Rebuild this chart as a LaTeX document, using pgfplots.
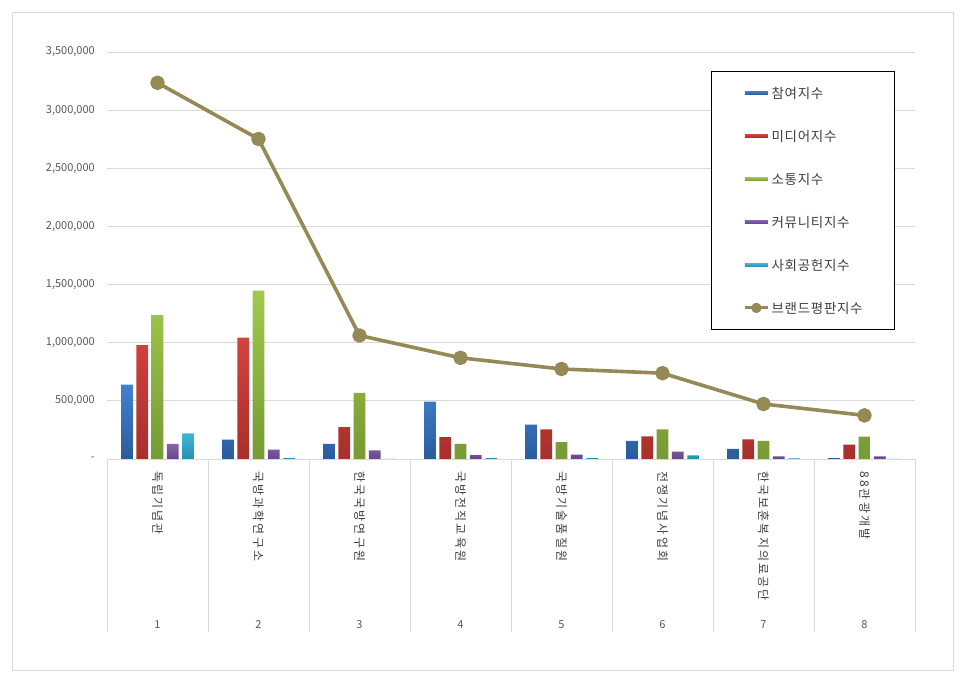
\documentclass[border=0pt]{standalone}
\usepackage{pgfplots}
\pgfplotsset{compat=1.18}
\usepackage{fontspec}
\setmainfont{Noto Sans CJK KR}
\newfontfamily\catfont[LetterSpace=18]{Noto Sans CJK KR}
\newfontfamily\legfont[LetterSpace=5]{Noto Sans CJK KR}
\definecolor{gridc}{HTML}{D9D9D9}
\definecolor{tickc}{HTML}{595959}
\definecolor{labc}{HTML}{404040}
\definecolor{blueT}{HTML}{4281CF}
\definecolor{blueB}{HTML}{2A5C9C}
\definecolor{redT}{HTML}{D2423E}
\definecolor{redB}{HTML}{A82F2C}
\definecolor{greenT}{HTML}{A0CA4C}
\definecolor{greenB}{HTML}{769A35}
\definecolor{purT}{HTML}{8763AF}
\definecolor{purB}{HTML}{68468C}
\definecolor{cyaT}{HTML}{40B7D8}
\definecolor{cyaB}{HTML}{2890AF}
\definecolor{linec}{HTML}{958A55}
\begin{document}
\begin{tikzpicture}
\useasboundingbox (0,0) rectangle (966pt,682pt);
\fill[white] (0,0) rectangle (966pt,682pt);
\draw[gridc, line width=0.8pt] (12pt,12pt) rectangle (953pt,670pt);
\begin{axis}[
  at={(107pt,223pt)}, anchor=south west,
  scale only axis, width=808pt, height=407pt,
  xmin=0.5, xmax=8.5, ymin=0, ymax=3500000,
  clip=false,
  axis line style={draw=none},
  major tick length=0pt,
  tick pos=left,
  scaled y ticks=false,
  ymajorgrids, grid style={gridc, line width=0.8pt},
  ytick={0,500000,1000000,1500000,2000000,2500000,3000000,3500000},
  yticklabels={{-\hspace{4pt}},{500,000},{1,000,000},{1,500,000},{2,000,000},{2,500,000},{3,000,000},{3,500,000}},
  yticklabel style={font=\fontsize{11}{13}\selectfont, text=tickc, inner sep=0pt, xshift=-12pt},
  xtick={1,2,3,4,5,6,7,8},
  xticklabels={독립기념관,국방과학연구소,한국국방연구원,국방전직교육원,국방기술품질원,전쟁기념사업회,한국보훈복지의료공단,88관광개발},
  xticklabel style={yshift=-12pt, rotate=-90, anchor=west, inner sep=0pt, font=\catfont\fontsize{12}{14}\selectfont, text=labc},
  extra x ticks={0.5,1.5,2.5,3.5,4.5,5.5,6.5,7.5,8.5},
  extra x tick labels={},
  extra x tick style={major tick length=173pt, tick align=outside, tick style={draw=gridc, line width=0.8pt}, grid=none},
  legend style={at={(0.7475,0.9533)}, anchor=north west, draw=black, line width=0.8pt,
    inner xsep=32pt, inner ysep=15pt, row sep=30pt,
    font=\legfont\fontsize{13.5}{15}\selectfont, text=labc,
    nodes={inner sep=0pt, text height=12pt, text depth=1pt}},
  legend cell align=left,
]
\addplot[ybar, bar width=11.7pt, bar shift=-30.6pt, draw=none, top color=blueT, bottom color=blueB,
  legend image code/.code={\fill[blueT!70!blueB] (0pt,-1.8pt) rectangle (23pt,1.8pt);}]
  coordinates {(1,639000) (2,166000) (3,129000) (4,493000) (5,295000) (6,155000) (7,86000) (8,8000)};
\addlegendentry{\,참여지수}
\addplot[ybar, bar width=11.7pt, bar shift=-15.3pt, draw=none, top color=redT, bottom color=redB,
  legend image code/.code={\fill[redT!70!redB] (0pt,-1.8pt) rectangle (23pt,1.8pt);}]
  coordinates {(1,980000) (2,1043000) (3,275000) (4,189000) (5,255000) (6,195000) (7,169000) (8,123000)};
\addlegendentry{\,미디어지수}
\addplot[ybar, bar width=11.7pt, bar shift=0pt, draw=none, top color=greenT, bottom color=greenB,
  legend image code/.code={\fill[greenT!70!greenB] (0pt,-1.8pt) rectangle (23pt,1.8pt);}]
  coordinates {(1,1238000) (2,1447000) (3,568000) (4,129000) (5,146000) (6,255000) (7,155000) (8,192000)};
\addlegendentry{\,소통지수}
\addplot[ybar, bar width=11.7pt, bar shift=15.3pt, draw=none, top color=purT, bottom color=purB,
  legend image code/.code={\fill[purT!70!purB] (0pt,-1.8pt) rectangle (23pt,1.8pt);}]
  coordinates {(1,129000) (2,80000) (3,75000) (4,34000) (5,37000) (6,63000) (7,23000) (8,23000)};
\addlegendentry{\,커뮤니티지수}
\addplot[ybar, bar width=11.7pt, bar shift=30.6pt, draw=none, top color=cyaT, bottom color=cyaB,
  legend image code/.code={\fill[cyaT!70!cyaB] (0pt,-1.8pt) rectangle (23pt,1.8pt);}]
  coordinates {(1,221000) (2,8000) (3,0) (4,8000) (5,8000) (6,32000) (7,6000) (8,0)};
\addlegendentry{\,사회공헌지수}
\addplot[sharp plot, color=linec, line width=3.6pt, line join=round, mark=*, mark size=5.5pt, mark options={solid, fill=linec, draw=none},
  legend image code/.code={\draw[linec, line width=3pt] (0pt,0pt) -- (23pt,0pt); \fill[linec] (11.5pt,0pt) circle (3.3pt);}]
  coordinates {(1,3235000) (2,2752000) (3,1062000) (4,870000) (5,774000) (6,738000) (7,473000) (8,375000)};
\addlegendentry{\,브랜드평판지수}
\node[font=\fontsize{11}{13}\selectfont, text=tickc] at (axis cs:1,0) [yshift=-166pt] {1};
\node[font=\fontsize{11}{13}\selectfont, text=tickc] at (axis cs:2,0) [yshift=-166pt] {2};
\node[font=\fontsize{11}{13}\selectfont, text=tickc] at (axis cs:3,0) [yshift=-166pt] {3};
\node[font=\fontsize{11}{13}\selectfont, text=tickc] at (axis cs:4,0) [yshift=-166pt] {4};
\node[font=\fontsize{11}{13}\selectfont, text=tickc] at (axis cs:5,0) [yshift=-166pt] {5};
\node[font=\fontsize{11}{13}\selectfont, text=tickc] at (axis cs:6,0) [yshift=-166pt] {6};
\node[font=\fontsize{11}{13}\selectfont, text=tickc] at (axis cs:7,0) [yshift=-166pt] {7};
\node[font=\fontsize{11}{13}\selectfont, text=tickc] at (axis cs:8,0) [yshift=-166pt] {8};
\end{axis}
\end{tikzpicture}
\end{document}
